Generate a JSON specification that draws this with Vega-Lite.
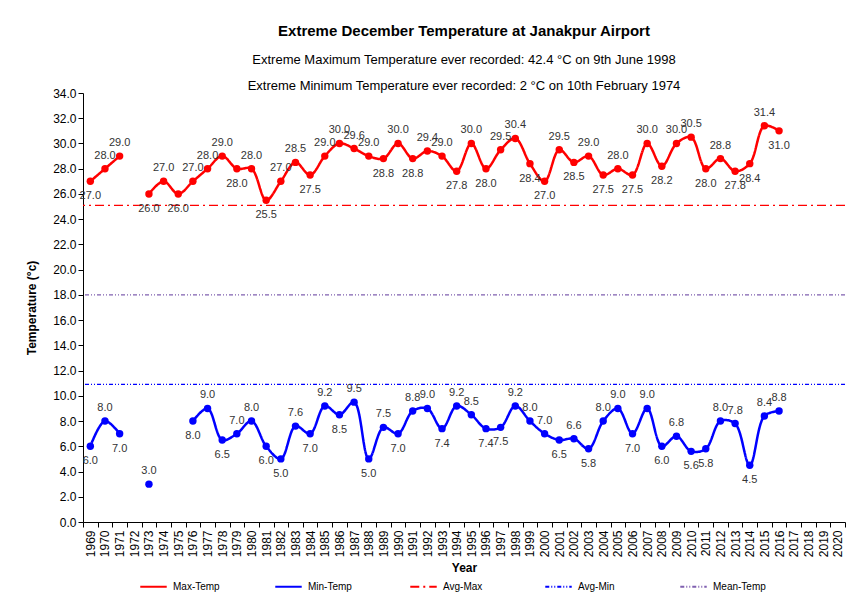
{
  "$schema": "https://vega.github.io/schema/vega-lite/v6.json",
  "width": 762,
  "height": 429,
  "autosize": "none",
  "padding": {"left": 83, "top": 93, "right": 12, "bottom": 91},
  "background": "white",
  "config": {
    "view": {"stroke": null},
    "font": "Liberation Sans",
    "axis": {"domainColor": "#000", "tickColor": "#000", "labelColor": "#000", "titleColor": "#000", "grid": false, "labelFont": "Liberation Sans", "titleFont": "Liberation Sans"},
    "title": {"font": "Liberation Sans", "fontSize": 15, "fontWeight": "bold", "color": "#000", "subtitleFont": "Liberation Sans", "subtitleFontSize": 13, "subtitleColor": "#000", "subtitleLineHeight": 26, "subtitlePadding": 15}
  },
  "title": {
    "text": "Extreme December Temperature at Janakpur Airport",
    "subtitle": ["Extreme Maximum Temperature ever recorded: 42.4 °C on 9th June 1998", "Extreme Minimum Temperature ever recorded: 2 °C on 10th  February 1974"],
    "anchor": "middle",
    "offset": -6
  },
  "datasets": {
    "temps": [
      {"year": "1969", "Max-Temp": 27.0, "Min-Temp": 6.0},
      {"year": "1970", "Max-Temp": 28.0, "Min-Temp": 8.0},
      {"year": "1971", "Max-Temp": 29.0, "Min-Temp": 7.0},
      {"year": "1972", "Max-Temp": null, "Min-Temp": null},
      {"year": "1973", "Max-Temp": 26.0, "Min-Temp": 3.0},
      {"year": "1974", "Max-Temp": 27.0, "Min-Temp": null},
      {"year": "1975", "Max-Temp": 26.0, "Min-Temp": null},
      {"year": "1976", "Max-Temp": 27.0, "Min-Temp": 8.0},
      {"year": "1977", "Max-Temp": 28.0, "Min-Temp": 9.0},
      {"year": "1978", "Max-Temp": 29.0, "Min-Temp": 6.5},
      {"year": "1979", "Max-Temp": 28.0, "Min-Temp": 7.0},
      {"year": "1980", "Max-Temp": 28.0, "Min-Temp": 8.0},
      {"year": "1981", "Max-Temp": 25.5, "Min-Temp": 6.0},
      {"year": "1982", "Max-Temp": 27.0, "Min-Temp": 5.0},
      {"year": "1983", "Max-Temp": 28.5, "Min-Temp": 7.6},
      {"year": "1984", "Max-Temp": 27.5, "Min-Temp": 7.0},
      {"year": "1985", "Max-Temp": 29.0, "Min-Temp": 9.2},
      {"year": "1986", "Max-Temp": 30.0, "Min-Temp": 8.5},
      {"year": "1987", "Max-Temp": 29.6, "Min-Temp": 9.5},
      {"year": "1988", "Max-Temp": 29.0, "Min-Temp": 5.0},
      {"year": "1989", "Max-Temp": 28.8, "Min-Temp": 7.5},
      {"year": "1990", "Max-Temp": 30.0, "Min-Temp": 7.0},
      {"year": "1991", "Max-Temp": 28.8, "Min-Temp": 8.8},
      {"year": "1992", "Max-Temp": 29.4, "Min-Temp": 9.0},
      {"year": "1993", "Max-Temp": 29.0, "Min-Temp": 7.4},
      {"year": "1994", "Max-Temp": 27.8, "Min-Temp": 9.2},
      {"year": "1995", "Max-Temp": 30.0, "Min-Temp": 8.5},
      {"year": "1996", "Max-Temp": 28.0, "Min-Temp": 7.4},
      {"year": "1997", "Max-Temp": 29.5, "Min-Temp": 7.5},
      {"year": "1998", "Max-Temp": 30.4, "Min-Temp": 9.2},
      {"year": "1999", "Max-Temp": 28.4, "Min-Temp": 8.0},
      {"year": "2000", "Max-Temp": 27.0, "Min-Temp": 7.0},
      {"year": "2001", "Max-Temp": 29.5, "Min-Temp": 6.5},
      {"year": "2002", "Max-Temp": 28.5, "Min-Temp": 6.6},
      {"year": "2003", "Max-Temp": 29.0, "Min-Temp": 5.8},
      {"year": "2004", "Max-Temp": 27.5, "Min-Temp": 8.0},
      {"year": "2005", "Max-Temp": 28.0, "Min-Temp": 9.0},
      {"year": "2006", "Max-Temp": 27.5, "Min-Temp": 7.0},
      {"year": "2007", "Max-Temp": 30.0, "Min-Temp": 9.0},
      {"year": "2008", "Max-Temp": 28.2, "Min-Temp": 6.0},
      {"year": "2009", "Max-Temp": 30.0, "Min-Temp": 6.8},
      {"year": "2010", "Max-Temp": 30.5, "Min-Temp": 5.6},
      {"year": "2011", "Max-Temp": 28.0, "Min-Temp": 5.8},
      {"year": "2012", "Max-Temp": 28.8, "Min-Temp": 8.0},
      {"year": "2013", "Max-Temp": 27.8, "Min-Temp": 7.8},
      {"year": "2014", "Max-Temp": 28.4, "Min-Temp": 4.5},
      {"year": "2015", "Max-Temp": 31.4, "Min-Temp": 8.4},
      {"year": "2016", "Max-Temp": 31.0, "Min-Temp": 8.8}
    ],
    "refs": [
      {"series": "Avg-Max", "value": 25.1},
      {"series": "Avg-Min", "value": 10.9},
      {"series": "Mean-Temp", "value": 18.0}
    ]
  },
  "encoding": {
    "x": {
      "field": "year", "type": "nominal",
      "scale": {"type": "band", "paddingInner": 0, "paddingOuter": 0,
        "domain": ["1969","1970","1971","1972","1973","1974","1975","1976","1977","1978","1979","1980","1981","1982","1983","1984","1985","1986","1987","1988","1989","1990","1991","1992","1993","1994","1995","1996","1997","1998","1999","2000","2001","2002","2003","2004","2005","2006","2007","2008","2009","2010","2011","2012","2013","2014","2015","2016","2017","2018","2019","2020"]},
      "axis": {"title": "Year", "titleFontSize": 12, "titleFontWeight": "bold", "titlePadding": 6, "labelAngle": -90, "labelFontSize": 12, "labelPadding": 3, "tickSize": 5, "tickBand": "extent"}
    },
    "y": {
      "field": "value", "type": "quantitative",
      "scale": {"domain": [0, 34], "nice": false},
      "axis": {"title": "Temperature (°c)", "titleFontSize": 12, "titleFontWeight": "bold", "titlePadding": 14, "values": [0,2,4,6,8,10,12,14,16,18,20,22,24,26,28,30,32,34], "format": ".1f", "labelFontSize": 12, "tickSize": 5, "labelPadding": 2}
    }
  },
  "layer": [
    {
      "data": {"name": "refs"},
      "mark": {"type": "rule", "strokeWidth": 1.3},
      "encoding": {
        "x": null,
        "y": {"field": "value", "type": "quantitative"},
        "color": {"field": "series", "type": "nominal"},
        "strokeDash": {"field": "series", "type": "nominal"}
      }
    },
    {
      "data": {"name": "temps"},
      "transform": [
        {"fold": ["Max-Temp", "Min-Temp"], "as": ["series", "value"]},
        {"window": [{"op": "lag", "field": "value", "as": "prev"}, {"op": "lead", "field": "value", "as": "next"}], "groupby": ["series"], "sort": [{"field": "year"}]},
        {"calculate": "datum.prev == null && datum.next == null ? true : (datum.prev == null ? datum.value >= datum.next : (datum.next == null ? datum.value >= datum.prev : datum.value >= (datum.prev + datum.next) / 2 - 0.25))", "as": "above"}
      ],
      "layer": [
        {
          "mark": {"type": "line", "strokeWidth": 2.5, "interpolate": "catmull-rom", "invalid": "break-paths-show-domains"},
          "encoding": {
            "color": {"field": "series", "type": "nominal",
              "scale": {"domain": ["Max-Temp", "Min-Temp", "Avg-Max", "Avg-Min", "Mean-Temp"], "range": ["#ff0000", "#0000ff", "#ff0000", "#0000ff", "#8060b0"]},
              "legend": {"title": null, "orient": "none", "legendX": 56, "legendY": 479, "direction": "horizontal", "columns": 5, "gridAlign": "all", "columnPadding": 45, "symbolType": "stroke", "symbolStrokeWidth": 2, "symbolSize": 700, "labelFont": "Liberation Sans", "labelFontSize": 10, "labelColor": "#000", "labelOffset": 5}},
            "strokeDash": {"field": "series", "type": "nominal",
              "scale": {"domain": ["Max-Temp", "Min-Temp", "Avg-Max", "Avg-Min", "Mean-Temp"], "range": [[1, 0], [1, 0], [9, 4, 2, 4], [4, 2, 1, 2, 1, 2], [4, 2, 1, 2, 1, 2]]}}
          }
        },
        {
          "transform": [{"filter": "datum.value != null"}],
          "mark": {"type": "point", "filled": true, "size": 55, "opacity": 1},
          "encoding": {"color": {"field": "series", "type": "nominal", "legend": null}}
        },
        {
          "transform": [{"filter": "datum.value != null && datum.above"}],
          "mark": {"type": "text", "dy": -13, "fontSize": 11, "color": "#333", "baseline": "middle"},
          "encoding": {"text": {"field": "value", "type": "quantitative", "format": ".1f"}}
        },
        {
          "transform": [{"filter": "datum.value != null && !datum.above"}],
          "mark": {"type": "text", "dy": 15, "fontSize": 11, "color": "#333", "baseline": "middle"},
          "encoding": {"text": {"field": "value", "type": "quantitative", "format": ".1f"}}
        }
      ]
    }
  ]
}
